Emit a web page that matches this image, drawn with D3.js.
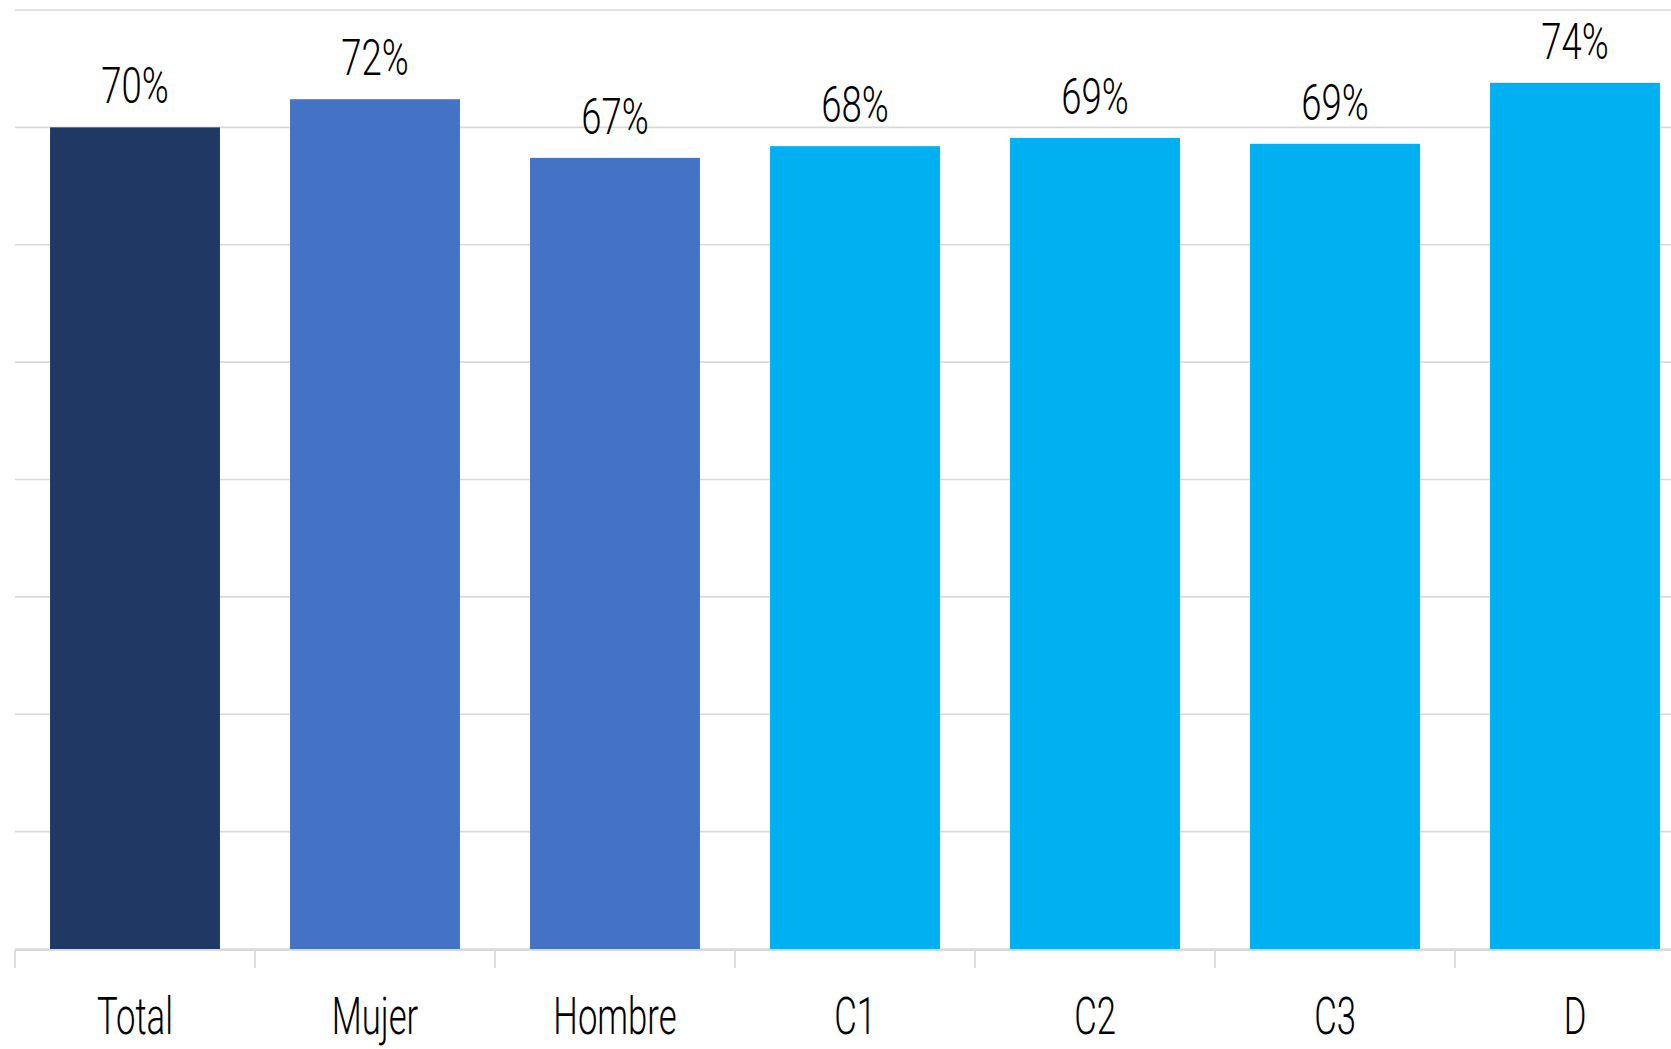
<!DOCTYPE html>
<html><head><meta charset="utf-8">
<script src="https://cdn.jsdelivr.net/npm/d3@7"></script>
<style>html,body{margin:0;padding:0;background:#fff;overflow:hidden}</style>
</head><body>
<svg id="c" width="1671" height="1049"></svg>
<script>
const categories = ["Total","Mujer","Hombre","C1","C2","C3","D"];
const values = [0.70, 0.724, 0.674, 0.684, 0.691, 0.686, 0.738];
const labels = ["70%","72%","67%","68%","69%","69%","74%"];
const colors = ["#203864","#4472C4","#4472C4","#00B0F0","#00B0F0","#00B0F0","#00B0F0"];
const yTicks = [0,0.1,0.2,0.3,0.4,0.5,0.6,0.7,0.8];

const svg = d3.select("#c");
const x = d3.scaleBand().domain(categories).range([15, 1695]).padding(0);
const y = d3.scaleLinear().domain([0, 0.8]).range([949, 10]);
const barW = x.bandwidth() * 0.708;
const font = "Roboto, 'Liberation Sans', sans-serif";

svg.append("g").selectAll("line").data(yTicks).join("line")
  .attr("x1", 15).attr("x2", 1671)
  .attr("y1", d => y(d)).attr("y2", d => y(d))
  .attr("stroke", "#d9d9d9").attr("stroke-width", 1.6);

svg.append("g").selectAll("rect").data(categories).join("rect")
  .attr("x", d => x(d) + x.bandwidth()/2 - barW/2)
  .attr("width", barW)
  .attr("y", (d,i) => y(values[i]))
  .attr("height", (d,i) => y(0) - y(values[i]))
  .attr("fill", (d,i) => colors[i]);

// axis baseline and ticks
svg.append("line").attr("x1", 15).attr("x2", 1671).attr("y1", y(0)+1).attr("y2", y(0)+1)
  .attr("stroke", "#d9d9d9").attr("stroke-width", 1.8);
const bounds = categories.map(d => x(d)).concat([x.range()[1]]);
svg.append("g").selectAll("line").data(bounds).join("line")
  .attr("x1", d => d).attr("x2", d => d)
  .attr("y1", y(0)+1).attr("y2", y(0)+19)
  .attr("stroke", "#d9d9d9").attr("stroke-width", 1.8);

svg.append("g").selectAll("text").data(categories).join("text")
  .attr("transform", d => `translate(${x(d)+x.bandwidth()/2},1034) scale(0.68,1)`)
  .attr("text-anchor", "middle")
  .attr("font-family", font).attr("font-size", 51).attr("font-weight", 300)
  .attr("fill", "#000").text(d => d);

svg.append("g").selectAll("text").data(categories).join("text")
  .attr("transform", (d,i) => `translate(${x(d)+x.bandwidth()/2},${y(values[i]) - 24}) scale(0.73,1)`)
  .attr("text-anchor", "middle")
  .attr("font-family", font).attr("font-size", 50).attr("font-weight", 300)
  .attr("fill", "#000").text((d,i) => labels[i]);
</script>
</body></html>
